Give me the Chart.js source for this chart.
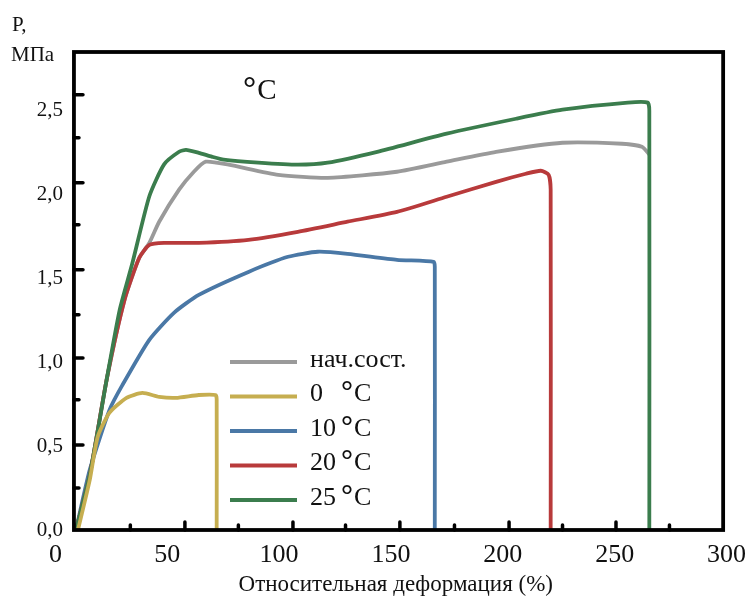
<!DOCTYPE html>
<html>
<head>
<meta charset="utf-8">
<script src="https://cdn.jsdelivr.net/npm/chart.js@4.4.0/dist/chart.umd.min.js"></script>
<style>
    html, body { margin: 0; padding: 0; background: #fff; }
    #wrap { width: 756px; height: 603px; }
</style>
</head>
<body>
<div id="wrap"><canvas id="stressChart"></canvas></div>
<script>
// strain (%) -> stress (MPa), one pair of arrays per curve
var initial_x = [9.2, 15.4, 22.9, 30.9, 37.5, 42.0, 46.4, 55.3, 61.9, 67.2, 77.4, 99.6, 121.7, 152.7, 174.9, 197.0, 226.7, 253.3, 262.2, 265.7];
var initial_y = [0, 0.33, 0.895, 1.372, 1.623, 1.712, 1.838, 2.029, 2.136, 2.196, 2.178, 2.118, 2.10, 2.136, 2.196, 2.255, 2.309, 2.303, 2.285, 2.237];

var t0_x = [10.1, 15.4, 18.9, 24.2, 31.8, 38.9, 46.4, 53.9, 64.1, 71.6, 72.1, 72.1];
var t0_y = [0, 0.30, 0.555, 0.70, 0.788, 0.817, 0.794, 0.788, 0.805, 0.805, 0.78, 0];

var t10_x = [9.2, 15.4, 24.2, 30.0, 42.0, 53.0, 64.1, 86.3, 104.0, 117.3, 130.6, 152.7, 169.1, 169.6, 169.6];
var t10_y = [0, 0.36, 0.716, 0.865, 1.134, 1.295, 1.402, 1.539, 1.629, 1.659, 1.647, 1.611, 1.599, 1.57, 0];

var t20_x = [9.2, 15.4, 22.9, 30.9, 37.5, 42.0, 48.6, 64.1, 86.3, 108.4, 130.6, 152.7, 174.9, 197.0, 210.3, 217.0, 220.5, 221.4, 221.4];
var t20_y = [0, 0.33, 0.895, 1.372, 1.623, 1.70, 1.712, 1.712, 1.73, 1.778, 1.838, 1.897, 1.987, 2.076, 2.124, 2.142, 2.118, 2.03, 0];

var t25_x = [9.2, 15.4, 22.9, 28.7, 34.4, 42.0, 48.6, 55.3, 58.4, 64.1, 69.9, 75.2, 90.7, 108.4, 121.7, 143.9, 174.9, 205.9, 226.7, 255.9, 264.8, 265.5, 265.5];
var t25_y = [0, 0.33, 0.895, 1.31, 1.59, 1.99, 2.18, 2.255, 2.267, 2.249, 2.226, 2.208, 2.19, 2.178, 2.19, 2.255, 2.363, 2.452, 2.506, 2.548, 2.548, 2.5, 0];

var series_labels = ["нач.сост.", "0 °C", "10 °C", "20 °C", "25 °C"];
var x_ticks = [0, 50, 100, 150, 200, 250, 300];
var y_ticks = [0, 0.5, 1.0, 1.5, 2.0, 2.5];
// small tick marks on the frame (not at the labelled values)
var x_marks = [33.5, 57.9, 81.8, 106.2, 129.7, 154.0, 178.4, 202.8, 226.7, 250.6, 274.5];
var y_marks = [0.251, 0.507, 0.776, 1.026, 1.283, 1.551, 1.820, 2.070, 2.339, 2.595];

var x_title = "Относительная деформация (%)";

function toPoints(xs, ys) {
    return xs.map((v, i) => ({ x: v, y: ys[i] }));
}

var serif = "'Liberation Serif', 'DejaVu Serif', serif";

// black box around the plot with its little inner ticks
var framePlugin = {
    id: "frame",
    afterDatasetsDraw: function (chart) {
        var ctx = chart.ctx;
        var x = chart.scales.x;
        var y = chart.scales.y;
        var left = x.getPixelForValue(8.3);
        var right = x.getPixelForValue(298.5);
        var top = y.getPixelForValue(2.85);
        var bottom = y.getPixelForValue(0);
        ctx.save();
        ctx.strokeStyle = "#000";
        ctx.lineWidth = 3.8;
        ctx.strokeRect(left, top, right - left, bottom - top);
        ctx.lineWidth = 3.5;
        ctx.lineCap = "round";
        x_marks.forEach(function (v, i) {
            var px = x.getPixelForValue(v);
            var len = i % 2 ? 8 : 5;
            ctx.beginPath();
            ctx.moveTo(px, bottom);
            ctx.lineTo(px, bottom - len);
            ctx.stroke();
        });
        y_marks.forEach(function (v, i) {
            var py = y.getPixelForValue(v);
            var len = i % 2 ? 9 : 5;
            ctx.beginPath();
            ctx.moveTo(left, py);
            ctx.lineTo(left + len, py);
            ctx.stroke();
        });
        ctx.restore();
    },
};

// "°C" with a heavier raised ring, as set in the figure
function drawUnit(ctx, x, y, size) {
    ctx.font = "bold " + Math.round(size * 1.15) + "px " + serif;
    ctx.fillText("°", x, y - 1);
    var w = ctx.measureText("°").width;
    ctx.font = size + "px " + serif;
    ctx.fillText("C", x + w + 1, y);
}

// legend inside the plot, plus the unit captions
var notesPlugin = {
    id: "notes",
    afterDraw: function (chart) {
        var ctx = chart.ctx;
        var area = chart.chartArea;
        ctx.save();
        ctx.fillStyle = "#111";
        ctx.textBaseline = "middle";
        ctx.textAlign = "left";

        ctx.font = "21px " + serif;
        ctx.fillText("P,", 12, 25);
        ctx.fillText("МПа", 11, 55);

        drawUnit(ctx, area.left + 178, 91, 29);

        var x0 = area.left + 165;
        var y0 = area.top + 310;
        chart.data.datasets.forEach(function (ds, i) {
            var yy = y0 + i * 34.5;
            ctx.strokeStyle = ds.borderColor;
            ctx.lineWidth = 4;
            ctx.beginPath();
            ctx.moveTo(x0, yy);
            ctx.lineTo(x0 + 67, yy);
            ctx.stroke();
            var parts = ds.label.split(" ");
            ctx.font = "26px " + serif;
            ctx.fillText(parts[0], x0 + 80, yy - 2);
            if (parts.length > 1) {
                drawUnit(ctx, x0 + 111, yy - 2, 26);
            }
        });
        ctx.restore();
    },
};

var ctx = document.getElementById("stressChart").getContext("2d");

new Chart(ctx, {
    type: "line",
    data: {
        datasets: [
            { label: series_labels[0], data: toPoints(initial_x, initial_y), borderColor: "#9a9a9a", order: 4 },
            { label: series_labels[1], data: toPoints(t0_x, t0_y), borderColor: "#c6ae50", order: 0 },
            { label: series_labels[2], data: toPoints(t10_x, t10_y), borderColor: "#4a78a6", order: 3 },
            { label: series_labels[3], data: toPoints(t20_x, t20_y), borderColor: "#b83a3b", order: 2 },
            { label: series_labels[4], data: toPoints(t25_x, t25_y), borderColor: "#3b7d4d", order: 1 },
        ],
    },
    options: {
        responsive: true,
        maintainAspectRatio: false,
        animation: false,
        layout: { padding: { top: 52, right: 24, left: 0, bottom: 0 } },
        elements: {
            point: { radius: 0 },
            line: { borderWidth: 3.8, tension: 0.2, fill: false },
        },
        plugins: {
            legend: { display: false },
            tooltip: { enabled: false },
        },
        scales: {
            x: {
                type: "linear",
                min: 4.3,
                max: 300,
                afterBuildTicks: function (s) {
                    s.ticks = x_ticks.map((v) => ({ value: v }));
                },
                afterFit: function (s) {
                    s.height = 73;
                },
                grid: { display: false, drawTicks: false },
                border: { display: false },
                ticks: {
                    autoSkip: false,
                    maxRotation: 0,
                    padding: 10,
                    color: "#111",
                    font: { family: serif, size: 26 },
                },
                title: {
                    display: true,
                    text: x_title,
                    color: "#111",
                    font: { family: serif, size: 23 },
                    padding: { top: 0, bottom: 4 },
                },
            },
            y: {
                type: "linear",
                min: 0,
                max: 2.85,
                afterBuildTicks: function (s) {
                    s.ticks = y_ticks.map((v) => ({ value: v }));
                },
                afterFit: function (s) {
                    s.width = 65;
                },
                grid: { display: false, drawTicks: false },
                border: { display: false },
                ticks: {
                    padding: 2,
                    color: "#111",
                    font: { family: serif, size: 21 },
                    callback: function (v) {
                        return v.toFixed(1).replace(".", ",");
                    },
                },
            },
        },
    },
    plugins: [framePlugin, notesPlugin],
});
</script>
</body>
</html>
